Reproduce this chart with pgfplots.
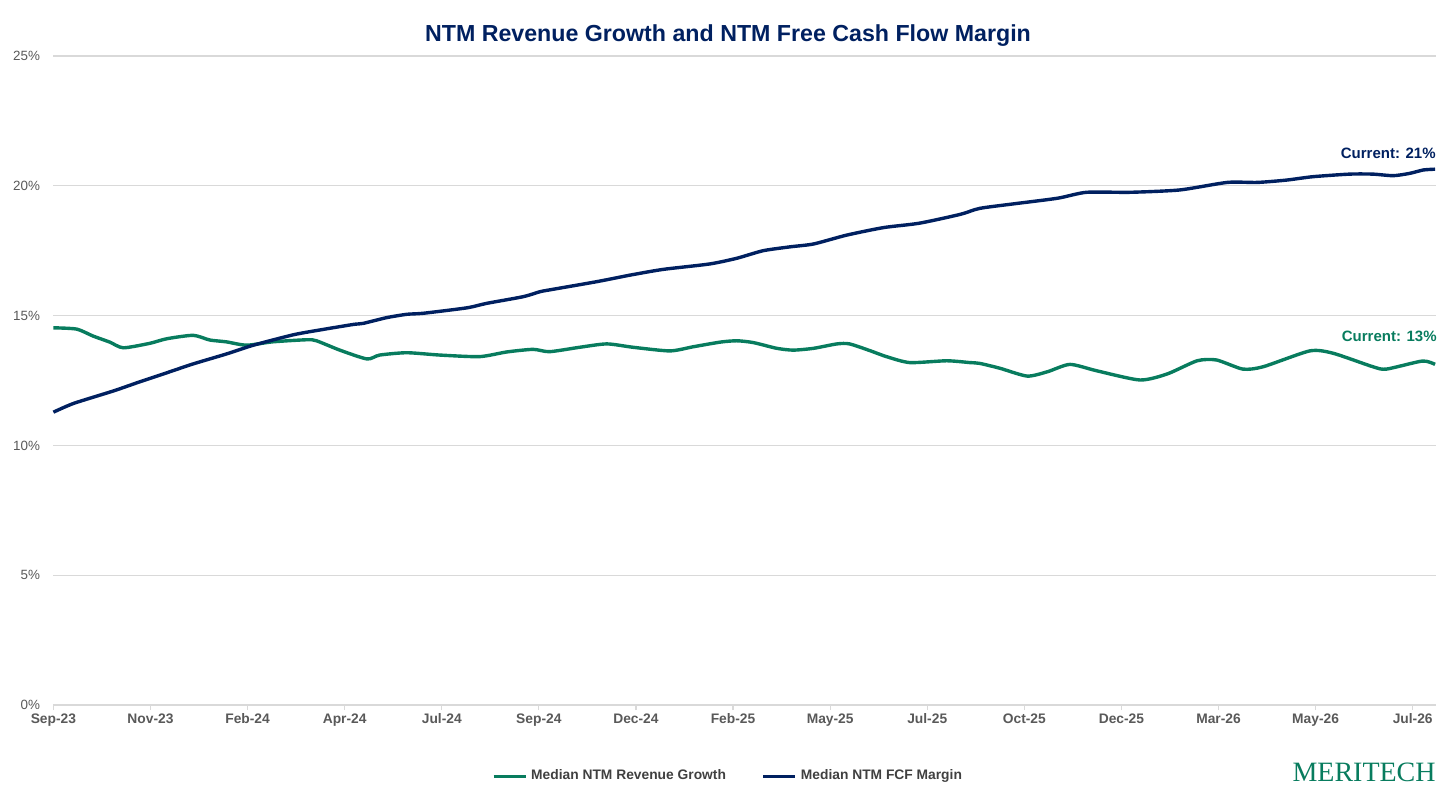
\documentclass[border=0pt]{standalone}
\usepackage{pgfplots}
\pgfplotsset{compat=1.18}
\usepackage{fontspec}
\setmainfont{Liberation Sans}
\newfontfamily\serifmark{Liberation Serif}
\definecolor{navy}{RGB}{0,32,96}
\definecolor{mgreen}{RGB}{8,124,94}
\definecolor{gridgray}{RGB}{217,217,217}
\definecolor{ticktext}{RGB}{89,89,89}
\definecolor{legtext}{RGB}{64,64,64}

\pgfplotstableread{
t v
0.00 14.53
0.24 14.48
0.41 14.21
0.58 13.98
0.72 13.76
0.99 13.93
1.17 14.11
1.44 14.24
1.61 14.06
1.78 13.99
1.99 13.86
2.26 13.99
2.61 14.07
2.71 14.03
2.95 13.67
3.23 13.33
3.36 13.48
3.64 13.57
3.98 13.48
4.39 13.42
4.67 13.60
4.94 13.70
5.11 13.61
5.42 13.78
5.70 13.91
5.97 13.78
6.35 13.64
6.59 13.80
6.87 13.98
7.04 14.03
7.21 13.96
7.45 13.74
7.62 13.67
7.83 13.74
8.07 13.91
8.20 13.91
8.41 13.65
8.58 13.42
8.82 13.19
9.20 13.26
9.44 13.19
9.54 13.16
9.75 12.97
10.03 12.67
10.24 12.84
10.47 13.12
10.75 12.87
11.19 12.52
11.47 12.75
11.78 13.26
11.98 13.29
12.25 12.94
12.46 13.03
12.94 13.64
13.18 13.55
13.59 13.03
13.73 12.94
14.10 13.25
14.23 13.12
}\revtable

\pgfplotstableread{
t v
0.00 11.28
0.21 11.62
0.62 12.10
0.89 12.45
1.17 12.80
1.44 13.14
1.78 13.52
2.06 13.86
2.47 14.26
2.75 14.45
3.09 14.66
3.19 14.70
3.43 14.92
3.64 15.05
3.81 15.09
4.26 15.30
4.46 15.47
4.84 15.73
5.01 15.92
5.11 15.99
5.60 16.31
5.94 16.56
6.28 16.78
6.76 16.99
7.04 17.21
7.31 17.50
7.59 17.65
7.83 17.76
8.17 18.10
8.55 18.39
8.92 18.56
9.34 18.90
9.54 19.13
9.88 19.30
10.34 19.52
10.64 19.75
11.09 19.75
11.60 19.84
12.09 20.13
12.40 20.13
12.70 20.22
12.97 20.35
13.35 20.45
13.59 20.45
13.80 20.39
13.97 20.48
14.11 20.61
14.23 20.64
}\fcftable

\begin{document}
\begin{tikzpicture}[x=0.5pt,y=0.5pt]
\path[use as bounding box] (0,0) rectangle (1456,799);
\begin{axis}[
  at={(26.7pt,47pt)}, anchor=south west,
  scale only axis, width=691.3pt, height=324.5pt,
  xmin=0, xmax=14.24, ymin=0, ymax=25,
  axis line style={draw=none},
  xtick={0,...,14},
  xticklabels={Sep-23,Nov-23,Feb-24,Apr-24,Jul-24,Sep-24,Dec-24,Feb-25,May-25,Jul-25,Oct-25,Dec-25,Mar-26,May-26,Jul-26},
  ytick={0,5,10,15,20,25},
  yticklabels={0\%,5\%,10\%,15\%,20\%,25\%},
  ymajorgrids, grid style={color=gridgray, line width=0.6pt},
  tick pos=left, tick align=outside,
  major tick length=2.5pt,
  xtick style={color=gridgray, line width=0.6pt},
  ytick style={draw=none},
  /pgf/number format/assume math mode=true,
  xticklabel style={font=\fontsize{6.9}{8}\selectfont\bfseries, text=ticktext, anchor=north, inner sep=0pt, text height=5pt, text depth=1.5pt, yshift=-1.5pt},
  yticklabel style={font=\fontsize{6.7}{8}\selectfont, text=ticktext, anchor=east, inner sep=0pt, xshift=-4pt},
  legend style={at={(0.4887,-0.1094)}, anchor=center, draw=none, fill=none,
    font=\fontsize{6.9}{8}\selectfont\bfseries, text=legtext,
    legend columns=2, inner sep=0pt,
    /tikz/every even column/.append style={column sep=16pt}},
  legend cell align=left,
  legend image code/.code={\draw[#1, line width=1.5pt] (0pt,0pt) -- (16pt,0pt);},
  clip=false,
]
\addplot[mgreen, line width=1.7pt, smooth, tension=0.4] table[x=t,y=v] {\revtable};
\addlegendentry{Median NTM Revenue Growth}
\addplot[navy, line width=1.7pt, smooth, tension=0.4] table[x=t,y=v] {\fcftable};
\addlegendentry{Median NTM FCF Margin}
\end{axis}
\node[font=\fontsize{11.6}{13}\selectfont\bfseries, text=navy] at (728,763) {NTM Revenue Growth and NTM Free Cash Flow Margin};
\node[font=\fontsize{7.5}{9}\selectfont\bfseries, text=navy, anchor=east, inner sep=0pt] at (1436,646) {Current: 21\%};
\node[font=\fontsize{7.5}{9}\selectfont\bfseries, text=mgreen, anchor=east, inner sep=0pt] at (1437,463) {Current: 13\%};
\node[font=\fontsize{14}{16}\selectfont\serifmark, text=mgreen, anchor=base east, inner sep=0pt] at (1436,18) {MERITECH};
\end{tikzpicture}
\end{document}
